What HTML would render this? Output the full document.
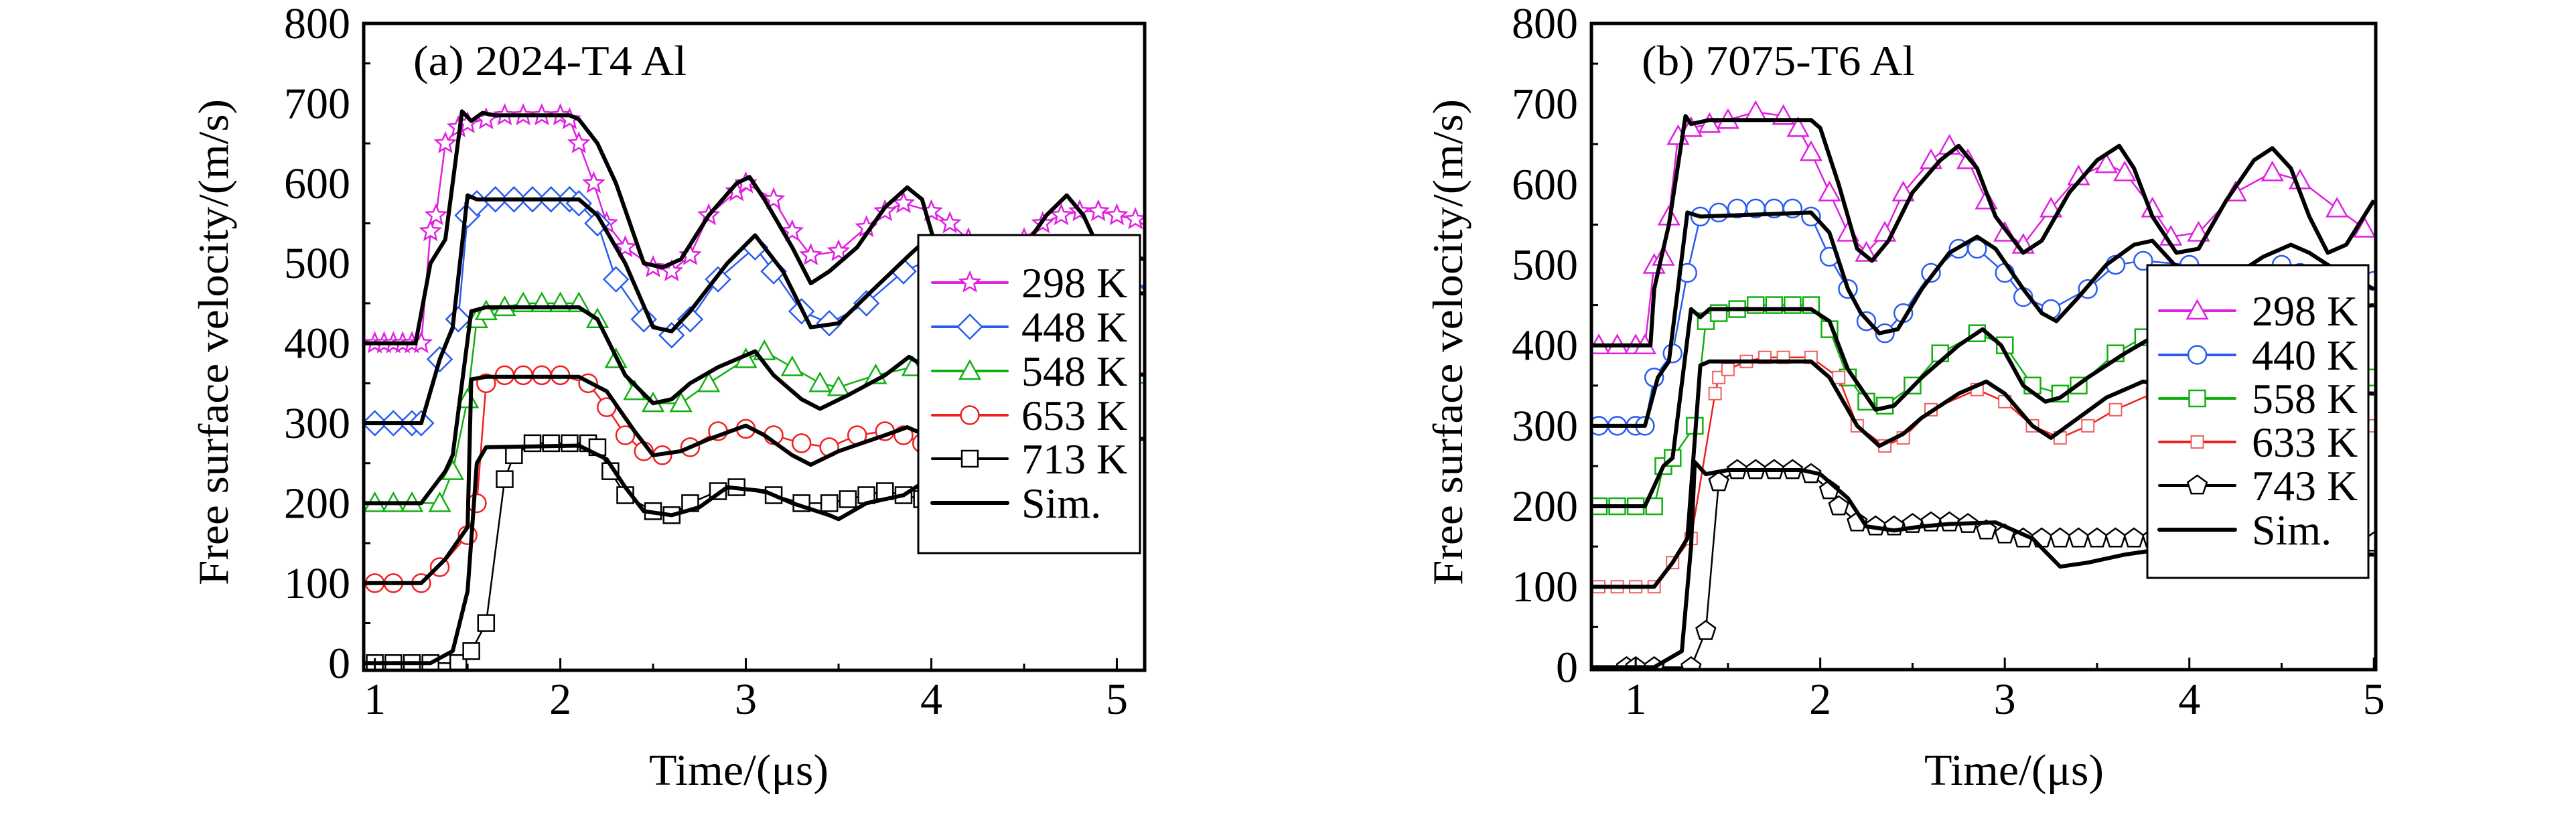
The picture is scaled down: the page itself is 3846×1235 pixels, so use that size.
<!DOCTYPE html>
<html><head><meta charset="utf-8"><style>
html,body{margin:0;padding:0;background:#fff;}
svg{display:block;}
svg text{font-family:"Liberation Serif","Times New Roman",serif;fill:#000;}
</style></head>
<body>
<svg id="chart" width="3846" height="1235" viewBox="0 0 3846 1235" font-family="Liberation Serif, serif">
</svg>
<script>
// ---- Panel (a) data: 2024-T4 Al ----
const aSim298T=[0.94,1.22,1.3,1.38,1.47,1.52,1.58,1.65,2.05,2.1,2.2,2.3,2.45,2.55,2.65,2.8,2.95,3.02,3.1,3.25,3.35,3.45,3.6,3.75,3.87,3.95,4.05,4.3,4.5,4.62,4.73,4.82,4.9,5.23];
const aSim298V=[400,400,500,530,690,678,688,685,685,680,650,600,500,495,505,560,600,608,580,520,475,490,520,570,595,580,500,480,520,560,585,560,520,500];
const aExp298T=[1.0,1.05,1.1,1.15,1.2,1.25,1.3,1.33,1.38,1.45,1.5,1.6,1.7,1.8,1.9,2.0,2.05,2.1,2.18,2.25,2.35,2.5,2.6,2.7,2.8,2.95,3.0,3.15,3.25,3.35,3.5,3.65,3.75,3.85,4.0,4.1,4.2,4.35,4.5,4.6,4.7,4.8,4.9,5.0,5.1,5.2];
const aExp298V=[400,400,400,400,400,400,540,560,650,670,675,680,685,685,685,685,680,650,600,550,520,495,490,510,560,590,600,580,540,510,515,545,565,575,565,550,530,520,530,550,560,565,565,560,555,540];
const aSim448T=[0.94,1.25,1.35,1.42,1.5,1.55,2.1,2.2,2.35,2.5,2.6,2.7,2.9,3.05,3.2,3.35,3.5,3.7,3.88,3.95,4.0,5.23];
const aSim448V=[300,300,380,420,585,580,580,560,500,420,415,440,500,535,490,420,425,470,510,525,490,460];
const aExp448T=[1.0,1.1,1.2,1.25,1.35,1.45,1.5,1.55,1.65,1.75,1.85,1.95,2.05,2.1,2.2,2.3,2.45,2.6,2.7,2.85,3.05,3.15,3.3,3.45,3.65,3.85,4.0,5.2];
const aExp448V=[300,300,300,300,380,430,560,575,580,580,580,580,580,575,550,480,430,410,430,480,520,490,440,425,450,490,505,470];
const aSim548T=[0.94,1.25,1.38,1.42,1.52,1.6,2.1,2.2,2.35,2.5,2.6,2.7,2.85,3.05,3.15,3.3,3.4,3.55,3.75,3.88,3.97,5.23];
const aSim548V=[200,200,240,260,440,445,445,430,360,325,330,350,370,390,360,330,318,335,360,383,370,360];
const aExp548T=[1.0,1.1,1.2,1.35,1.42,1.5,1.55,1.6,1.7,1.8,1.9,2.0,2.1,2.2,2.3,2.4,2.5,2.65,2.8,3.0,3.1,3.25,3.4,3.5,3.7,3.9,4.0,5.2];
const aExp548V=[200,200,200,200,240,330,430,440,445,450,450,450,450,430,380,340,325,325,350,380,390,370,350,345,360,370,360,350];
const aSim653T=[0.94,1.25,1.38,1.5,1.52,1.6,2.1,2.25,2.4,2.5,2.65,2.8,3.0,3.1,3.25,3.35,3.5,3.75,3.87,3.97,5.23];
const aSim653V=[100,100,130,170,355,358,358,340,290,260,265,280,297,285,260,248,265,285,295,285,280];
const aExp653T=[1.0,1.1,1.25,1.35,1.5,1.55,1.6,1.7,1.8,1.9,2.0,2.15,2.25,2.35,2.45,2.55,2.7,2.85,3.0,3.15,3.3,3.45,3.6,3.75,3.85,3.95,5.2];
const aExp653V=[100,100,100,120,160,200,350,360,360,360,360,350,320,285,265,260,270,290,293,285,275,270,285,290,285,275,280];
const aSim713T=[0.94,1.3,1.42,1.5,1.55,1.6,2.1,2.25,2.35,2.45,2.6,2.75,2.9,3.1,3.25,3.45,3.5,3.65,3.85,3.95,4.1];
const aSim713V=[0,0,15,90,250,270,272,255,220,190,185,195,220,215,200,185,180,200,210,225,210];
const aExp713T=[1.0,1.1,1.2,1.3,1.45,1.52,1.6,1.7,1.75,1.85,1.95,2.05,2.15,2.2,2.27,2.35,2.5,2.6,2.7,2.85,2.95,3.15,3.3,3.45,3.55,3.65,3.75,3.85,3.95,4.1];
const aExp713V=[0,0,0,0,0,15,50,230,260,275,275,275,275,270,240,210,190,185,200,215,220,210,200,200,205,210,215,210,205,205];

// ---- Panel (b) data: 7075-T6 Al ----
const bSim298T=[0.76,1.08,1.1,1.13,1.18,1.27,1.3,1.4,1.95,2.0,2.1,2.2,2.28,2.37,2.5,2.65,2.75,2.85,2.95,3.1,3.2,3.35,3.5,3.62,3.7,3.8,3.93,4.05,4.2,4.35,4.45,4.55,4.65,4.75,4.85,5.0];
const bSim298V=[400,400,470,500,550,685,675,680,680,670,600,520,505,530,590,630,648,620,560,515,530,590,630,648,620,560,515,520,580,630,645,620,560,515,525,580];
const bExp298T=[0.8,0.9,1.0,1.05,1.1,1.15,1.18,1.23,1.3,1.4,1.5,1.65,1.8,1.88,1.95,2.05,2.15,2.25,2.35,2.45,2.6,2.7,2.8,2.9,3.0,3.1,3.25,3.4,3.55,3.65,3.8,3.9,4.05,4.25,4.45,4.6,4.8,4.95];
const bExp298V=[400,400,400,400,500,510,560,660,670,675,680,690,685,670,640,590,540,515,540,590,630,648,630,580,540,525,570,610,625,615,570,535,540,590,615,605,570,545];
const bSim440T=[0.76,1.05,1.12,1.18,1.28,1.35,1.95,2.05,2.15,2.22,2.32,2.42,2.55,2.7,2.85,2.95,3.1,3.2,3.28,3.4,3.55,3.7,3.8,3.92,4.2,4.4,4.55,4.65,4.75,5.0];
const bSim440V=[300,300,360,380,565,560,565,540,470,440,415,420,470,515,535,520,470,440,430,460,500,525,530,500,480,510,525,515,500,470];
const bExp440T=[0.8,0.9,1.0,1.05,1.1,1.2,1.28,1.35,1.45,1.55,1.65,1.75,1.85,1.95,2.05,2.15,2.25,2.35,2.45,2.6,2.75,2.85,3.0,3.1,3.25,3.45,3.6,3.75,4.0,4.5,4.6,5.0];
const bExp440V=[300,300,300,300,360,390,490,560,565,570,570,570,570,560,510,470,430,415,440,490,520,520,490,460,445,470,500,505,500,500,490,480];
const bSim558T=[0.76,1.05,1.15,1.2,1.3,1.35,1.4,1.95,2.05,2.15,2.3,2.4,2.55,2.75,2.88,2.98,3.1,3.22,3.3,3.45,3.65,3.8,3.95,5.0];
const bSim558V=[200,200,250,260,445,435,445,445,430,370,320,325,360,400,420,400,350,330,335,360,390,410,420,450];
const bExp558T=[0.8,0.9,1.0,1.1,1.15,1.2,1.32,1.38,1.45,1.55,1.65,1.75,1.85,1.95,2.05,2.15,2.25,2.35,2.5,2.65,2.85,3.0,3.15,3.3,3.4,3.6,3.75,3.9,5.0];
const bExp558V=[200,200,200,200,250,260,300,430,440,445,450,450,450,450,420,360,330,325,350,390,415,400,350,340,350,390,410,415,360];
const bSim633T=[0.76,1.1,1.2,1.28,1.35,1.4,1.95,2.05,2.2,2.32,2.45,2.55,2.75,2.9,3.0,3.15,3.25,3.4,3.55,3.75,3.9,5.0];
const bSim633V=[100,100,130,160,375,380,380,360,300,275,290,310,340,355,340,300,285,310,335,355,350,340];
const bExp633T=[0.8,0.9,1.0,1.1,1.2,1.3,1.43,1.45,1.5,1.6,1.7,1.8,1.95,2.1,2.2,2.35,2.45,2.6,2.85,3.0,3.15,3.3,3.45,3.6,3.8,3.9,5.0];
const bExp633V=[100,100,100,100,130,160,340,360,370,380,385,385,385,360,300,275,285,320,345,330,300,285,300,320,340,345,300];
const bSim743T=[0.76,1.1,1.25,1.3,1.32,1.38,1.5,1.9,2.0,2.15,2.25,2.4,2.55,2.7,2.95,3.15,3.3,3.45,3.65,3.8,5.0];
const bSim743V=[0,0,20,150,255,240,245,245,240,210,175,170,175,178,180,160,125,130,140,145,140];
const bExp743T=[0.95,1.0,1.1,1.3,1.38,1.45,1.55,1.65,1.75,1.85,1.95,2.05,2.1,2.2,2.3,2.4,2.5,2.6,2.7,2.8,2.9,3.0,3.1,3.2,3.3,3.4,3.5,3.6,3.7,3.8,5.0];
const bExp743V=[0,0,0,0,45,230,245,245,245,245,240,220,200,180,175,175,178,180,180,178,170,165,160,160,160,160,160,160,160,160,155];

const yTicks=[0,100,200,300,400,500,600,700,800];
const xTicks=[1,2,3,4,5];

const NS="http://www.w3.org/2000/svg";
const svg=document.getElementById('chart');
const FONT='"Liberation Serif", serif';
function mk(tag,attrs,parent){const e=document.createElementNS(NS,tag);for(const k in attrs)e.setAttribute(k,attrs[k]);if(tag==='text')e.setAttribute('font-family',FONT);(parent||svg).appendChild(e);return e;}

function marker(g,type,x,y,color){
  const s=15;let e;
  if(type==='star'){let p=[];for(let i=0;i<10;i++){const r=i%2?s*0.45:s;const a=-Math.PI/2+i*Math.PI/5;p.push((x+r*Math.cos(a)).toFixed(1)+','+(y+r*Math.sin(a)).toFixed(1));}
    e=mk('polygon',{points:p.join(' '),fill:'#fff',stroke:color,'stroke-width':2.5},g);}
  else if(type==='diamond'){e=mk('polygon',{points:`${x},${y-s*1.2} ${x+s*1.2},${y} ${x},${y+s*1.2} ${x-s*1.2},${y}`,fill:'#fff',stroke:color,'stroke-width':2.5},g);}
  else if(type==='tri'){e=mk('polygon',{points:`${x},${y-s} ${x+s},${y+s*0.8} ${x-s},${y+s*0.8}`,fill:'#fff',stroke:color,'stroke-width':2.5},g);}
  else if(type==='circle'){e=mk('circle',{cx:x,cy:y,r:s*0.9,fill:'#fff',stroke:color,'stroke-width':2.5},g);}
  else if(type==='square'){e=mk('rect',{x:x-s*0.8,y:y-s*0.8,width:s*1.6,height:s*1.6,fill:'#fff',stroke:color,'stroke-width':2.5},g);}
  else if(type==='smallsq'){e=mk('rect',{x:x-9,y:y-9,width:18,height:18,fill:'#fff',stroke:color,'stroke-width':2},g);}
  else if(type==='pent'){let p=[];for(let i=0;i<5;i++){const a=-Math.PI/2+i*2*Math.PI/5;p.push((x+s*Math.cos(a)).toFixed(1)+','+(y+s*Math.sin(a)).toFixed(1));}
    e=mk('polygon',{points:p.join(' '),fill:'#fff',stroke:color,'stroke-width':2.5},g);}
  
  
}

function panel(cfg){
  const g=mk('g',{});
  
  
  const X=t=>cfg.x0+(t-cfg.t0)*(cfg.x1-cfg.x0)/(cfg.t1-cfg.t0);
  const Y=v=>cfg.y0+(v-cfg.v0)*(cfg.y1-cfg.y0)/(cfg.v1-cfg.v0);
  const clip=mk('clipPath',{id:cfg.name+'-clip'},g);
  mk('rect',{x:cfg.x0,y:cfg.y1,width:cfg.x1-cfg.x0,height:cfg.y0-cfg.y1},clip);
  const plot=mk('g',{'clip-path':`url(#${cfg.name}-clip)`},g);
  
  
  cfg.series.forEach(s=>{
    const pe=mk('polyline',{points:s.eT.map((t,i)=>X(t).toFixed(1)+','+Y(s.eV[i]).toFixed(1)).join(' '),fill:'none',stroke:s.color,'stroke-width':2.5},plot);
    
    
    s.eT.forEach((t,i)=>marker(plot,s.mk,X(t),Y(s.eV[i]),s.mcol||s.color));
  });
  cfg.series.forEach(s=>{
    const ps=mk('polyline',{points:s.sT.map((t,i)=>X(t).toFixed(1)+','+Y(s.sV[i]).toFixed(1)).join(' '),fill:'none',stroke:'#000','stroke-width':6,'stroke-linejoin':'round'},plot);
    
    
  });
  xTicks.forEach(t=>{
    const l=mk('line',{x1:X(t),x2:X(t),y1:cfg.y0,y2:cfg.y0-18,stroke:'#000','stroke-width':3},g);
    
    const m=mk('line',{x1:X(t+0.5),x2:X(t+0.5),y1:cfg.y0,y2:cfg.y0-10,stroke:'#000','stroke-width':3},g);
    if(t+0.5>cfg.t1)m.remove();
    const tx=mk('text',{x:X(t),y:1066,'font-size':66,'text-anchor':'middle'},g);tx.textContent=t;
    
  });
  yTicks.forEach(v=>{
    const l=mk('line',{x1:cfg.x0,x2:cfg.x0+10,y1:Y(v+50),y2:Y(v+50),stroke:'#000','stroke-width':3},g);
    if(v+50>cfg.v1)l.remove();
    const tx=mk('text',{x:cfg.x0-20,y:Y(v)+22,'font-size':66,'text-anchor':'end'},g);tx.textContent=v;
    
  });
  const fr=mk('rect',{x:cfg.x0,y:cfg.y1,width:cfg.x1-cfg.x0,height:cfg.y0-cfg.y1,fill:'none',stroke:'#000','stroke-width':5},g);
  
  const pl=mk('text',{x:cfg.plx,y:112,'font-size':64,textLength:408,lengthAdjust:'spacingAndGlyphs'},g);pl.textContent=cfg.title;
  
  const yt=mk('text',{x:0,y:0,'font-size':64,'text-anchor':'middle',textLength:726,lengthAdjust:'spacingAndGlyphs',transform:`translate(${cfg.ytx},511) rotate(-90)`},g);yt.textContent='Free surface velocity/(m/s)';
  
  const xt=mk('text',{x:cfg.xtx,y:1172,'font-size':66,textLength:268,lengthAdjust:'spacingAndGlyphs'},g);xt.textContent='Time/(μs)';
  
  const L=cfg.leg;
  const lg=mk('g',{},g);
  
  mk('rect',{x:L.x,y:L.y,width:L.w,height:L.h,fill:'#fff',stroke:'#000','stroke-width':3},lg);
  const ents=cfg.series.concat([{label:'Sim.',sim:true}]);
  ents.forEach((s,i)=>{
    const yy=L.ys[i];
    const e=mk('g',{},lg);
    
    mk('line',{x1:L.lx1,x2:L.lx2,y1:yy,y2:yy,stroke:s.sim?'#000':s.color,'stroke-width':s.sim?6:4,'stroke-linecap':'round'},e);
    if(!s.sim)marker(e,s.mk,(L.lx1+L.lx2)/2,yy,s.mcol||s.color);
    const t=mk('text',{x:L.tx,y:yy+22,'font-size':64},e);t.textContent=s.label;
  });
}

panel({name:'panel-a-2024-t4',title:'(a) 2024-T4 Al',x0:543,x1:1709,t0:0.94,t1:5.15,y0:1001,y1:35,v0:-9,v1:800,ytx:340,plx:617,xtx:969,
  series:[
   {label:'298 K',color:'#e020e0',mk:'star',eT:aExp298T,eV:aExp298V,sT:aSim298T,sV:aSim298V},
   {label:'448 K',color:'#2a5cf0',mk:'diamond',eT:aExp448T,eV:aExp448V,sT:aSim448T,sV:aSim448V},
   {label:'548 K',color:'#10b010',mk:'tri',eT:aExp548T,eV:aExp548V,sT:aSim548T,sV:aSim548V},
   {label:'653 K',color:'#f02020',mk:'circle',eT:aExp653T,eV:aExp653V,sT:aSim653T,sV:aSim653V},
   {label:'713 K',color:'#000',mk:'square',eT:aExp713T,eV:aExp713V,sT:aSim713T,sV:aSim713V}],
  leg:{x:1371,y:351,w:331,h:475,ys:[422,488,554,620,685,751],lx1:1392,lx2:1504,tx:1525}});

panel({name:'panel-b-7075-t6',title:'(b) 7075-T6 Al',x0:2376,x1:3547,t0:0.76,t1:5.01,y0:1000,y1:35,v0:-3,v1:800,ytx:2183,plx:2451,xtx:2873,
  series:[
   {label:'298 K',color:'#e020e0',mk:'tri',eT:bExp298T,eV:bExp298V,sT:bSim298T,sV:bSim298V},
   {label:'440 K',color:'#2a5cf0',mk:'circle',eT:bExp440T,eV:bExp440V,sT:bSim440T,sV:bSim440V},
   {label:'558 K',color:'#10b010',mk:'square',eT:bExp558T,eV:bExp558V,sT:bSim558T,sV:bSim558V},
   {label:'633 K',color:'#f02020',mk:'smallsq',mcol:'#f06060',eT:bExp633T,eV:bExp633V,sT:bSim633T,sV:bSim633V},
   {label:'743 K',color:'#000',mk:'pent',eT:bExp743T,eV:bExp743V,sT:bSim743T,sV:bSim743V}],
  leg:{x:3206,y:396,w:330,h:467,ys:[464,530,595,660,725,791],lx1:3224,lx2:3337,tx:3362}});
</script>
</body></html>
